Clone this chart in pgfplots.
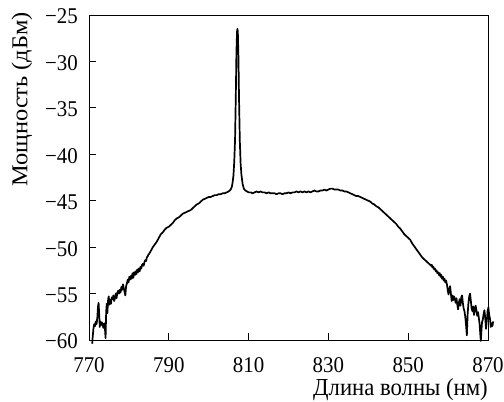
\documentclass[border=0pt]{standalone}
\usepackage{fontspec}
\setmainfont{Liberation Serif}
\newfontfamily\tickfont{Liberation Serif}[Scale=1.075,FakeStretch=0.93]
\newfontfamily\ylabfont{Liberation Serif}[FakeStretch=1.075]
\usepackage{pgfplots}
\pgfplotsset{compat=1.18}
\begin{document}
\begin{tikzpicture}
\begin{axis}[
  scale only axis,
  width=399bp, height=325bp,
  xmin=770, xmax=870, ymin=-60, ymax=-25,
  clip=false,
  axis line style={line width=1bp},
  tick style={line width=1bp, black},
  major tick length=7bp,
  tick align=inside,
  xtick pos=bottom, ytick pos=left,
  xtick={770,790,810,830,850,870},
  xticklabels={770,790,810,830,850,870},
  ytick={-60,-55,-50,-45,-40,-35,-30,-25},
  yticklabels={−60,−55,−50,−45,−40,−35,−30,−25},
  tick label style={font=\tickfont\fontsize{21}{24}\selectfont},
  xticklabel style={anchor=base, inner sep=0pt, yshift=-33bp},
  yticklabel style={anchor=east, inner sep=0pt, xshift=-11bp, yshift=-1.5bp},
  xlabel={Длина волны (нм)},
  xlabel style={font=\tickfont\fontsize{22.8}{26}\selectfont, at={(axis description cs:1.0,-0.172)}, anchor=base east, inner sep=0pt},
  ylabel={Мощность (дБм)},
  ylabel style={font=\ylabfont\fontsize{22.8}{26}\selectfont, at={(axis description cs:-0.168,1.02)}, anchor=east},
]
\addplot[black, line width=1.7bp, line join=round] coordinates {
(770.8,-60.4) (770.9,-59.8) (771.1,-58.8) (771.3,-58.3) (771.5,-58.5) (771.7,-58.0) (771.9,-58.3)
(772.1,-57.5) (772.25,-56.4) (772.4,-56.0) (772.55,-57.2) (772.7,-58.6) (772.85,-58.0) (773.0,-58.4)
(773.2,-58.1) (773.4,-58.3) (773.6,-58.7) (773.8,-58.2) (774.0,-58.8) (774.15,-59.8) (774.3,-57.0)
(774.45,-56.1) (774.6,-57.1) (774.8,-55.6) (774.95,-55.3) (775.1,-56.2) (775.3,-55.7) (775.5,-56.1)
(775.7,-55.4) (775.9,-55.6) (776.1,-55.2) (776.3,-55.8) (776.5,-55.5) (776.7,-55.0) (776.9,-55.5)
(777.1,-54.9) (777.3,-54.7) (777.5,-55.0) (777.7,-54.6) (777.9,-54.9) (778.1,-54.3) (778.3,-54.6)
(778.5,-54.0) (778.7,-54.4) (778.9,-54.8) (779.1,-55.2) (779.3,-54.2) (779.5,-53.9) (779.7,-53.5)
(779.9,-53.8) (780.1,-53.2) (780.3,-53.5) (780.5,-53.1) (780.7,-53.4) (780.9,-52.8) (781.1,-53.3)
(781.3,-52.7) (781.5,-53.0) (781.7,-52.6) (781.9,-52.9) (782.1,-52.4) (782.3,-52.7) (782.5,-52.3)
(782.7,-52.6) (782.9,-52.1) (783.1,-52.3) (783.3,-51.9) (783.5,-51.8) (783.7,-52.0) (783.9,-51.6)
(784.1,-51.4) (784.3,-51.5) (784.5,-51.1) (784.7,-51.0) (784.9,-50.8) (785.1,-50.7)
(785.5,-50.4) (786,-50.0) (786.5,-49.7) (787,-49.4) (787.5,-49.0) (788,-48.6) (788.5,-48.4)
(789,-48.1) (789.5,-47.9) (790,-47.8) (790.5,-47.6) (791,-47.4) (791.5,-47.1) (792,-46.9)
(792.5,-46.8) (793,-46.6) (793.5,-46.4) (794,-46.3) (794.5,-46.2) (795,-46.1) (795.5,-46.0)
(796,-45.8) (796.5,-45.6) (797,-45.4) (797.5,-45.3) (798,-45.1) (798.5,-44.9) (799,-44.8)
(799.5,-44.7) (800,-44.6) (800.5,-44.6) (801,-44.5) (801.5,-44.4) (802,-44.4) (802.5,-44.3)
(803,-44.3) (803.5,-44.2) (804,-44.2) (804.5,-44.1) (805,-44.0) (805.5,-43.8) (805.8,-43.5)
(806.0,-43.0) (806.2,-42.3) (806.4,-40.8) (806.6,-38.5) (806.8,-33.5) (806.95,-29.0) (807.1,-26.8)
(807.2,-26.5) (807.3,-26.8) (807.45,-29.5) (807.6,-34.0) (807.8,-38.6) (808.0,-41.0) (808.2,-42.2)
(808.5,-43.2) (808.8,-43.7) (809.2,-43.9) (809.6,-44.0) (810,-44.1) (810.5,-44.1) (811,-44.2)
(811.5,-44.1) (812,-44.0) (812.5,-44.1) (813,-44.0) (813.5,-44.1) (814,-44.1) (814.5,-44.2)
(815,-44.1) (815.5,-44.2) (816,-44.2) (816.5,-44.2) (817,-44.3) (817.5,-44.2) (818,-44.2)
(818.5,-44.3) (819,-44.2) (819.5,-44.2) (820,-44.1) (820.5,-44.2) (821,-44.1) (821.5,-44.1)
(822,-44.0) (822.5,-44.1) (823,-44.0) (823.5,-44.1) (824,-44.0) (824.5,-44.1) (825,-44.0)
(825.5,-44.1) (826,-44.0) (826.5,-43.9) (827,-44.0) (827.5,-44.0) (828,-43.9) (828.5,-43.9)
(829,-43.8) (829.5,-43.9) (830,-43.8) (830.5,-43.7) (831,-43.7) (831.5,-43.8) (832,-43.8)
(832.5,-43.8) (833,-43.9) (833.5,-43.9) (834,-44.0) (834.5,-44.0) (835,-44.1) (835.5,-44.2)
(836,-44.3) (836.5,-44.4) (837,-44.5) (837.5,-44.5) (838,-44.6) (838.5,-44.7) (839,-44.8)
(839.5,-44.9) (840,-45.0) (840.5,-45.1) (841,-45.3) (841.5,-45.4) (842,-45.6) (842.5,-45.7)
(843,-45.9) (843.5,-46.1) (844,-46.3) (844.5,-46.5) (845,-46.7) (845.5,-46.9) (846,-47.1)
(846.5,-47.3) (847,-47.5) (847.5,-47.8) (848,-48.0) (848.5,-48.3) (849,-48.6) (849.5,-48.8)
(850,-49.0) (850.5,-49.2) (851,-49.6) (851.5,-49.9) (852,-50.2) (852.5,-50.5) (853,-50.8)
(853.5,-51.1) (854,-51.3) (854.5,-51.5) (855,-51.7) (855.5,-51.9)
(855.7,-52.0) (855.9,-51.9) (856.1,-52.2) (856.3,-52.1) (856.5,-52.4) (856.7,-52.3) (856.9,-52.6)
(857.1,-52.5) (857.3,-52.8) (857.5,-52.7) (857.7,-53.0) (857.9,-52.8) (858.1,-53.2) (858.3,-53.0)
(858.5,-53.4) (858.7,-53.2) (858.9,-53.6) (859.1,-53.4) (859.3,-53.8) (859.5,-53.6) (859.7,-54.0)
(859.9,-54.6) (860.1,-55.1) (860.3,-54.5) (860.5,-54.2) (860.7,-55.0) (860.9,-55.8) (861.1,-55.2)
(861.3,-55.7) (861.5,-55.3) (861.7,-55.6) (861.9,-56.0) (862.1,-55.5) (862.3,-56.2) (862.5,-56.7)
(862.7,-56.0) (862.9,-55.6) (863.1,-56.3) (863.3,-55.4) (863.5,-55.2) (863.7,-56.0) (863.9,-56.6)
(864.1,-56.9) (864.3,-57.5) (864.5,-58.4) (864.7,-59.5) (864.9,-57.2) (865.1,-56.0) (865.3,-55.3)
(865.5,-55.0) (865.7,-55.8) (865.9,-56.6) (866.1,-56.9) (866.3,-56.4) (866.5,-57.3) (866.7,-56.7)
(866.9,-56.3) (867.1,-56.8) (867.3,-57.4) (867.5,-57.0) (867.7,-57.6) (867.9,-58.3) (868.1,-59.6)
(868.2,-60.1) (868.35,-59.0) (868.5,-58.1) (868.7,-57.8) (868.9,-57.2) (869.1,-56.8) (869.3,-57.6)
(869.5,-58.8) (869.7,-57.9) (869.9,-56.9) (870.1,-56.5) (870.3,-57.3) (870.5,-57.7) (870.7,-58.6)
(870.9,-58.2) (871.1,-58.5) (871.3,-58.0)
};
\path (rel axis cs:-0.2231,-0.1846) rectangle (rel axis cs:1.0401,1.0462);
\end{axis}
\end{tikzpicture}
\end{document}
